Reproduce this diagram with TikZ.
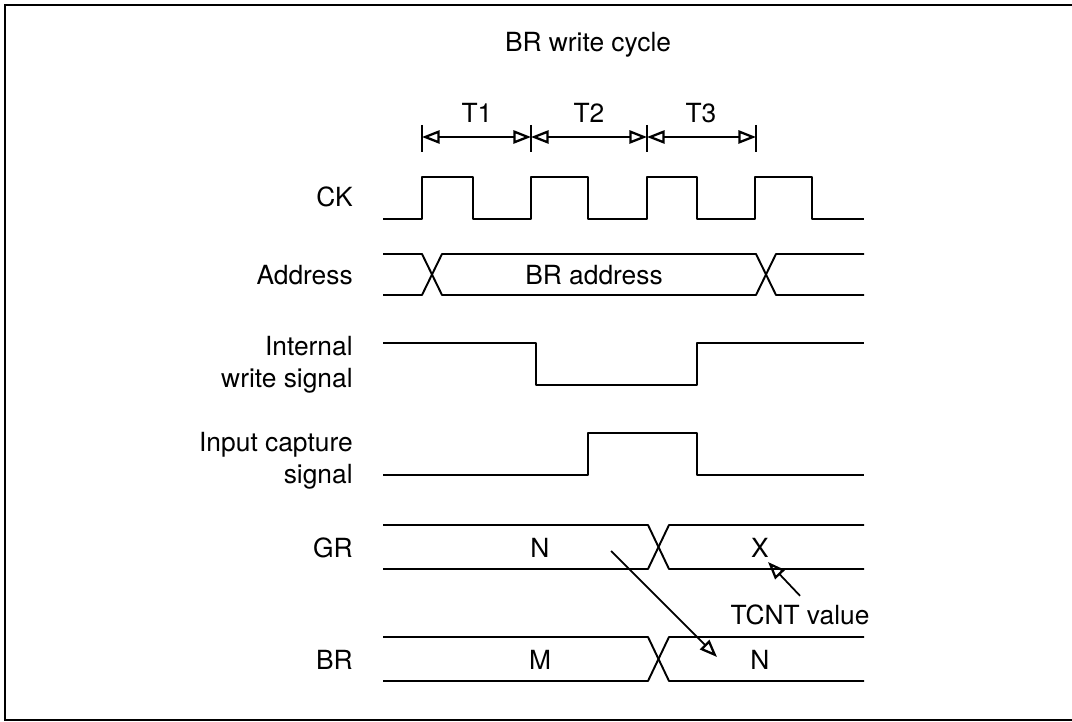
\documentclass[tikz,border=0pt]{standalone}
\usepackage{fontspec}
\setmainfont{TeX Gyre Heros}
\usetikzlibrary{arrows.meta}

\begin{document}
\begin{tikzpicture}[
  x=0.02cm, y=-0.02cm,
  wave/.style={line width=1.1pt, line join=round},
  lbl/.style={anchor=east, inner sep=0pt, align=right, font=\fontsize{15}{18}\selectfont},
  txt/.style={inner sep=0pt, font=\fontsize{15}{18}\selectfont},
  span/.style={line width=1.1pt, {Triangle[open,length=10pt,width=7.5pt,line width=1.3pt]}-{Triangle[open,length=10pt,width=7.5pt,line width=1.3pt]}},
  ptr/.style={line width=1pt, -{Triangle[open,length=10pt,width=7.5pt,line width=1.3pt]}},
]
  \useasboundingbox (0,0) rectangle (1072,722);
  \draw[line width=1.5pt] (1072,5) -- (5,5) -- (5,720) -- (1072,720);

  \node[txt] (title) at (588,45) {BR write cycle};

  % T1 T2 T3
  \foreach \x/\n in {422/a,531/b,647/c,756/d} {
    \coordinate (t\n) at (\x,137);
    \draw[line width=0.6pt] (\x,125) -- (\x,152);
  }
  \draw[span] (ta) -- (tb);
  \draw[span] (tb) -- (tc);
  \draw[span] (tc) -- (td);
  \node[txt] (T1) at (477,113) {T1};
  \node[txt] (T2) at (589,113) {T2};
  \node[txt] (T3) at (701,113) {T3};

  % signal names
  \node[lbl] (ck) at (353,197) {CK};
  \node[lbl] (addr) at (353,275) {Address};
  \node[lbl] (wr) at (353,365) {Internal\\write signal};
  \node[lbl] (cap) at (353,461) {Input capture\\signal};
  \node[lbl] (gr) at (353,548) {GR};
  \node[lbl] (br) at (353,660) {BR};

  % waveforms
  \draw[wave] (383,219) -- (422,219) -- (422,177) -- (473,177) -- (473,219) -- (531,219)
    -- (531,177) -- (588,177) -- (588,219) -- (647,219) -- (647,177) -- (697,177)
    -- (697,219) -- (755,219) -- (755,177) -- (812,177) -- (812,219) -- (864,219);

  \draw[wave] (383,254) -- (422,254) -- (442,295) -- (756,295) -- (776,254) -- (864,254);
  \draw[wave] (383,295) -- (422,295) -- (442,254) -- (756,254) -- (776,295) -- (864,295);
  \node[txt] (braddr) at (594,275) {BR address};

  \draw[wave] (383,343) -- (536,343) -- (536,385) -- (697,385) -- (697,343) -- (864,343);

  \draw[wave] (383,475) -- (588,475) -- (588,433) -- (697,433) -- (697,475) -- (864,475);

  \draw[wave] (383,525) -- (648,525) -- (669,569) -- (864,569);
  \draw[wave] (383,569) -- (648,569) -- (669,525) -- (864,525);
  \node[txt] (grn) at (540,548) {N};
  \node[txt] (grx) at (760,548) {X};

  \draw[wave] (383,637) -- (648,637) -- (669,681) -- (864,681);
  \draw[wave] (383,681) -- (648,681) -- (669,637) -- (864,637);
  \node[txt] (brm) at (540,660) {M};
  \node[txt] (brn) at (760,660) {N};

  % arrows
  \coordinate (from) at (611,551);
  \coordinate (to) at (717,657);
  \draw[ptr] (from) -- (to);

  \node[txt] (tcnt) at (800,615) {TCNT value};
  \coordinate (xtip) at (768,562);
  \draw[ptr] ([yshift=5pt]tcnt.north) -- (xtip);
\end{tikzpicture}
\end{document}
